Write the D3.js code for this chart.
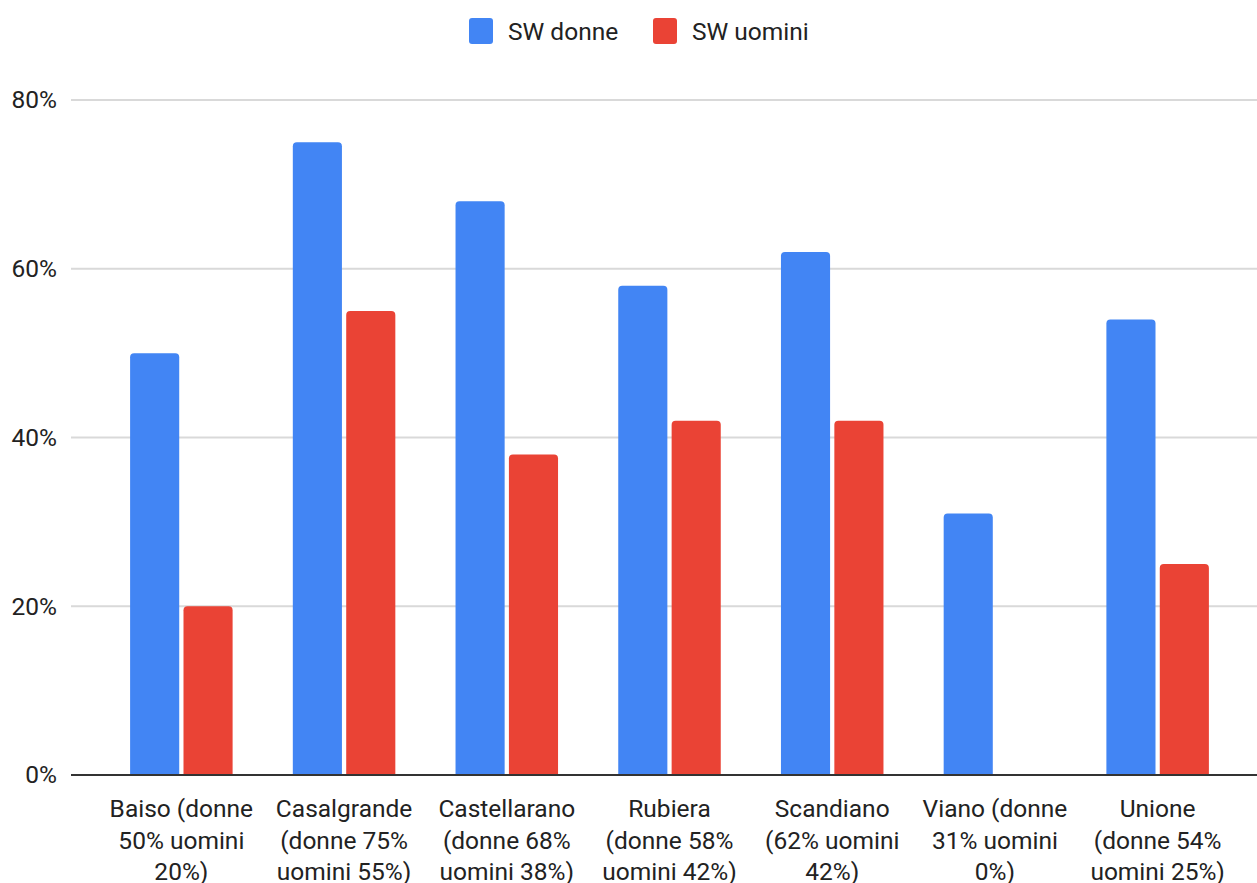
<!DOCTYPE html>
<html>
<head>
<meta charset="utf-8">
<script src="https://cdn.jsdelivr.net/npm/d3@7"></script>
<style>
  html, body { margin: 0; padding: 0; background: #fff; }
  svg { display: block; font-family: Roboto, Arial, sans-serif; }
</style>
</head>
<body>
<svg id="chart" width="1257" height="883"></svg>
<script>
// Smart working share by municipality, women vs men
const categories = [
  "Baiso (donne\n50% uomini\n20%)",
  "Casalgrande\n(donne 75%\nuomini 55%)",
  "Castellarano\n(donne 68%\nuomini 38%)",
  "Rubiera\n(donne 58%\nuomini 42%)",
  "Scandiano\n(62% uomini\n42%)",
  "Viano (donne\n31% uomini\n0%)",
  "Unione\n(donne 54%\nuomini 25%)"
];
const seriesNames = ["SW donne", "SW uomini"];
const donne = [50, 75, 68, 58, 62, 31, 54];
const uomini = [20, 55, 38, 42, 42, 0, 25];
const yTicks = [0, 20, 40, 60, 80];
const colors = ["#4285f4", "#ea4335"];

const FONT = 24.5;
const svg = d3.select("#chart");
const plot = { left: 71, right: 1257, top: 100, bottom: 775 };

const x = d3.scaleBand()
  .domain(categories)
  .range([100, 1239])
  .paddingInner(0)
  .paddingOuter(0);

const inner = d3.scaleBand()
  .domain(seriesNames)
  .range([0, x.bandwidth() * 0.63])
  .paddingInner(0.08);

const y = d3.scaleLinear().domain([0, 80]).range([plot.bottom, plot.top]);

// Gridlines
svg.append("g")
  .selectAll("line")
  .data(yTicks.filter(d => d !== 0))
  .join("line")
  .attr("x1", plot.left).attr("x2", plot.right)
  .attr("y1", d => y(d)).attr("y2", d => y(d))
  .attr("stroke", "#d9d9d9")
  .attr("stroke-width", 2);

// Y axis labels
const yAxis = d3.axisLeft(y).tickValues(yTicks).tickFormat(d => d + "%").tickSize(0).tickPadding(14);
const yg = svg.append("g").attr("transform", `translate(${plot.left},0)`).call(yAxis);
yg.select(".domain").remove();
yg.selectAll("text")
  .attr("font-family", "Roboto, Arial, sans-serif")
  .attr("font-size", FONT)
  .attr("fill", "#222");

// Bars
const rows = categories.map((c, i) => ({ cat: c, values: [donne[i], uomini[i]] }));
const groups = svg.append("g").selectAll("g")
  .data(rows)
  .join("g")
  .attr("transform", d => `translate(${x(d.cat) + (x.bandwidth() - inner.range()[1]) / 2},0)`);

function topRounded(x0, y0, w, h, r) {
  if (h <= 0) return "";
  r = Math.min(r, h, w / 2);
  return `M${x0},${y0 + h}V${y0 + r}Q${x0},${y0} ${x0 + r},${y0}H${x0 + w - r}Q${x0 + w},${y0} ${x0 + w},${y0 + r}V${y0 + h}Z`;
}

groups.selectAll("path")
  .data(d => d.values.map((v, j) => ({ v, s: seriesNames[j], j })))
  .join("path")
  .attr("d", d => topRounded(inner(d.s), y(d.v), inner.bandwidth(), y(0) - y(d.v), 4))
  .attr("fill", d => colors[d.j]);

// Baseline
svg.append("line")
  .attr("x1", plot.left).attr("x2", plot.right)
  .attr("y1", y(0)).attr("y2", y(0))
  .attr("stroke", "#333")
  .attr("stroke-width", 2);

// X axis labels
const xAxis = d3.axisBottom(x).tickSize(0).tickPadding(0);
const xg = svg.append("g").attr("transform", `translate(0,${plot.bottom})`).call(xAxis);
xg.select(".domain").remove();
xg.selectAll(".tick text").each(function (d) {
  const t = d3.select(this).text(null)
    .attr("font-family", "Roboto, Arial, sans-serif")
    .attr("font-size", FONT)
    .attr("fill", "#222")
    .attr("text-anchor", "middle")
    .attr("y", 0)
    .attr("dy", null);
  d.split("\n").forEach((line, k) => {
    t.append("tspan").attr("x", 0).attr("y", 42 + k * 31.5).text(line);
  });
});

// Legend
const legendItems = [
  { name: seriesNames[0], color: colors[0], x: 469 },
  { name: seriesNames[1], color: colors[1], x: 653 }
];
const lg = svg.append("g").selectAll("g").data(legendItems).join("g")
  .attr("transform", d => `translate(${d.x},0)`);
lg.append("rect")
  .attr("x", 0).attr("y", 18).attr("width", 24).attr("height", 26).attr("rx", 3)
  .attr("fill", d => d.color);
lg.append("text")
  .attr("x", 39).attr("y", 40)
  .attr("font-size", FONT)
  .attr("fill", "#222")
  .text(d => d.name);
</script>
</body>
</html>
